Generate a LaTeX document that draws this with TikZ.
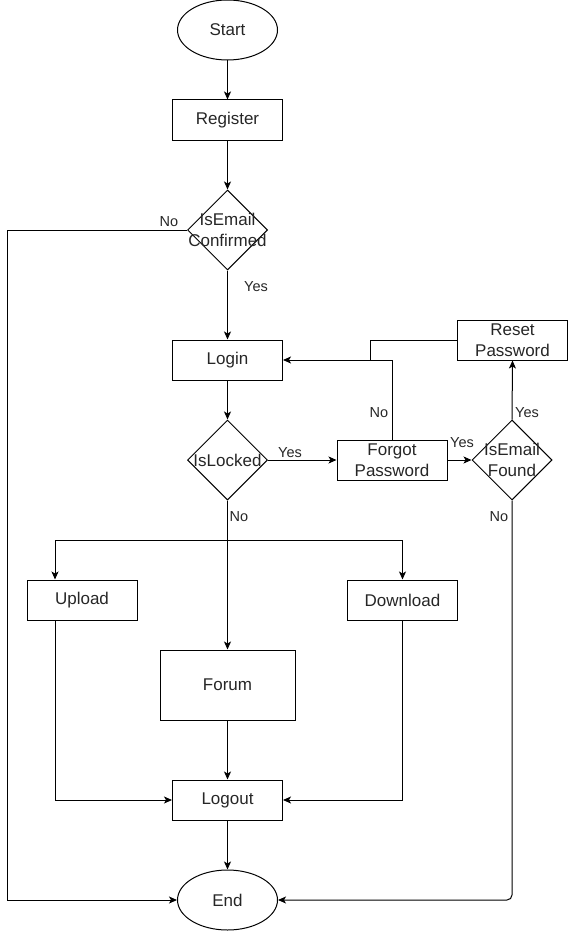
\documentclass[tikz,border=0pt]{standalone}
\usepackage{fontspec}
\setmainfont{Liberation Sans}
\usetikzlibrary{shapes.geometric,arrows.meta}
\definecolor{txtc}{HTML}{262626}
\begin{document}
\begin{tikzpicture}[x=1pt,y=-1pt,
  every node/.style={text=txtc},
  mainfont/.style={font=\fontsize{17}{20.5}\selectfont},
  box/.style={draw, line width=1pt, minimum width=110pt, minimum height=40pt, inner sep=0pt, align=center, mainfont},
  oval/.style={draw, line width=1pt, ellipse, minimum width=100pt, minimum height=60pt, inner sep=0pt, mainfont},
  dia/.style={draw, line width=1pt, diamond, minimum width=80pt, minimum height=80pt, inner sep=0pt},
  diatext/.style={inner sep=0pt, align=center, mainfont},
  lbl/.style={inner sep=0pt, font=\fontsize{14.5}{17}\selectfont},
  arr/.style={line width=1pt, -{Stealth[length=8pt,width=7pt,inset=2pt]}},
  ln/.style={line width=1pt}]
\useasboundingbox (0,0) rectangle (568,931);

% nodes
\node[oval] (start) at (227.5,30) {Start};
\node[box] (reg) at (227.5,120) {Register};
\node[dia] (ec) at (227.5,230) {};
\node[diatext] (ect) at (227.5,230) {IsEmail\\Confirmed};
\node[box] (login) at (227.5,360) {Login};
\node[dia] (lock) at (227.5,460) {};
\node[diatext] (lockt) at (227.5,460) {IsLocked};
\node[box] (forgot) at (392,460) {Forgot\\Password};
\node[dia] (found) at (512,460) {};
\node[diatext] (foundt) at (512,460) {IsEmail\\Found};
\node[box] (reset) at (512.5,340) {Reset\\Password};
\node[box] (upload) at (82,600) {Upload};
\node[box] (download) at (402.5,600) {Download};
\node[box, minimum width=135pt, minimum height=70pt] (forum) at (227.5,685) {Forum};
\node[box] (logout) at (227.5,800) {Logout};
\node[oval] (end) at (227.5,900) {End};

% helper coordinates
\coordinate (nl) at (7.5,230);
\coordinate (rj) at (370,360);
\coordinate (br) at (227.5,540.5);
\coordinate (bl) at (55,540.5);

% connectors
\draw[arr] (start) -- (reg);
\draw[arr] (reg) -- (ec);
\draw[arr] (ec) -- (login);
\draw[arr] (ec.west) -- (nl) |- (end.west);
\draw[arr] (login) -- (lock);
\draw[arr] (lock.east) -- (forgot.west);
\draw[arr] (forgot.east) -- (found.west);
\draw[arr] (found.north) -- (reset.south);
\draw[arr] (forgot.north) |- (login.east);
\draw[ln] (reset.west) -| (rj);
\draw[arr, rounded corners=5pt] (found.south) |- (end.east);
\draw[arr] (lock.south) -- (forum.north);
\draw[arr] (bl) -- (bl |- upload.north);
\draw[ln] (bl) -- (br);
\draw[arr] (br) -| (download.north);
\draw[arr] (bl |- upload.south) |- (logout.west);
\draw[arr] (download.south) |- (logout.east);
\draw[arr] (forum) -- (logout);
\draw[arr] (logout) -- (end);

% labels
\node[lbl] (l1) at (169,222) {No};
\node[lbl] (l2) at (256,287) {Yes};
\node[lbl] (l3) at (290,453) {Yes};
\node[lbl] (l4) at (239,517) {No};
\node[lbl] (l5) at (379,413) {No};
\node[lbl] (l6) at (462,443) {Yes};
\node[lbl] (l7) at (527,413) {Yes};
\node[lbl] (l8) at (499,517) {No};
\end{tikzpicture}
\end{document}
